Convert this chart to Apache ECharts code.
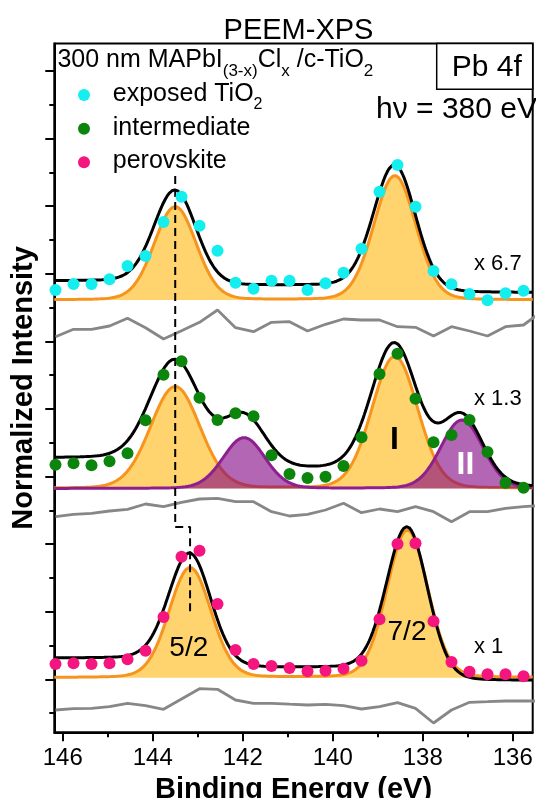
<!DOCTYPE html>
<html>
<head>
<meta charset="utf-8">
<script src="https://cdn.jsdelivr.net/npm/echarts@6/dist/echarts.min.js"></script>
<style>
  html, body { margin: 0; padding: 0; background: #fff; }
  #chart { width: 536px; height: 798px; }
</style>
</head>
<body>
<div id="chart"></div>
<script>
// ---------- data ----------
const bindingEnergy = [146.16, 145.76, 145.36, 144.96, 144.56, 144.16, 143.76, 143.36, 142.96, 142.56,
  142.16, 141.76, 141.36, 140.96, 140.56, 140.16, 139.76, 139.36, 138.96, 138.56,
  138.16, 137.76, 137.36, 136.96, 136.56, 136.16, 135.76];
const residualEnergy = [146.16, 145.76, 145.36, 144.96, 144.56, 144.16, 143.76, 143.36, 142.96, 142.56,
  142.16, 141.76, 141.36, 140.96, 140.56, 140.16, 139.76, 139.36, 138.96, 138.56,
  138.16, 137.76, 137.36, 136.96, 136.56, 136.16, 135.76, 135.36];

// measured intensities above each spectrum's baseline (a.u.)
const exposedTiO2 = [10, 16, 16, 20.7, 34, 44, 78, 103.3, 74.3, 49.3, 17.3, 11.3, 19.3, 19.3,
  10, 16.7, 27.3, 51.3, 108.3, 135, 93.3, 29, 15.7, 6, -0.3, 6.7, 9.3];
const intermediate = [23.8, 25.2, 23.2, 27.2, 35.2, 68.2, 113.8, 127.2, 90.8, 68.5, 75.2, 72.2, 33.2, 14.5,
  10.5, 11.8, 22.5, 51.2, 114.5, 134.8, 89.8, 46.2, 53.5, 68.5, 36.5, 5.8, 0.8];
const perovskite = [13.7, 14.4, 13.7, 14.4, 18.4, 27, 60.7, 121, 127, 73.7, 27.7, 13.7, 11.7, 9.7,
  6.4, 7, 9, 17, 58.4, 133.7, 134.4, 56.4, 15.7, 6, 3.4, 3.4, 1.4];

// fit residuals (data - fit)
const residualTiO2 = [-9.7, -2.3, -2.3, 1, 8.7, -0.7, -12, -3.7, 4.7, 17, -0.7, -4.7, 4.7, 5.3,
  -4, 2.7, 8, 7, 7, 0.3, -0.3, -9, 0.3, -4, -9, 0.3, 2, 15.3];
const residualIntermediate = [-6.7, -4.3, -3.3, -1, 0.7, 6, 3.3, 7.7, 11, 11.7, 8.3, 8.3, -1.7, -6,
  -4.3, 0, 6.7, -2.7, 1, -1.7, 3.3, -1.7, -11.7, -1.7, -1.7, 1.7, 3.3, 4.7];
const residualPerovskite = [-5, -3.7, -3.3, -1.7, 1.7, -0.7, -4.3, 6, 16.3, 15.7, 5, 1.7, 1.7, 0.8,
  0, 0.7, -0.7, -4, -1.7, 2.3, -3.3, -18, -5, 2.7, 3.3, 4, 4, 4];

// vertical stacking offsets: [TiO2, intermediate, perovskite]
const spectrumOffsets = [432.3, 243.8, 54.6];
const residualOffsets = [405.3, 222.3, 27.3];

// fitted Pb 4f doublets: [centre eV, height, FWHM eV, Shirley step]
const peaksTiO2 = [[143.50, 93.3, 1.10, 4.7], [138.62, 124.3, 1.10, 7.0]];
const peaksIntermediateI = [[143.50, 101.8, 1.30, 8.0], [138.62, 132.0, 1.20, 14.0]];
const peaksIntermediateII = [[141.97, 50.8, 1.10, 3.0], [137.13, 68.5, 1.10, 4.0]];
const peaksPerovskite = [[143.17, 110.0, 1.10, 9.7], [138.34, 147.5, 1.07, 12.7]];
// background level at the low binding-energy end
const backgroundFloor = [7.3, 1.5, -3.0];

// 5/2 peak position shift guide
const guidePath = [[143.50, 556.3], [143.50, 205.3], [143.17, 205.3], [143.17, 119.0]];

// axis ticks
const xMajorTicks = [136, 138, 140, 142, 144, 146];
const xMinorTicks = [137, 139, 141, 143, 145];
const yMajorTicks = [53, 120.6, 188.2, 255.8, 323.4, 391, 458.6, 526.2, 593.8, 661.4];
const yMinorTicks = [19.2, 86.8, 154.4, 222, 289.6, 357.2, 424.8, 492.4, 560, 627.6];

const X_MIN = 135.556, X_MAX = 146.187, Y_MIN = 0, Y_MAX = 688.8;

// ---------- fit model ----------
function erf(x) {
  const s = x < 0 ? -1 : 1; x = Math.abs(x);
  const t = 1 / (1 + 0.3275911 * x);
  const y = 1 - (((((1.061405429 * t - 1.453152027) * t) + 1.421413741) * t - 0.284496736) * t + 0.254829592) * t * Math.exp(-x * x);
  return s * y;
}
function peakShape(E, p) {
  const d = (E - p[0]) / p[2];
  return p[1] * (0.9 * Math.exp(-4 * Math.LN2 * d * d) + 0.1 / (1 + 4 * d * d));
}
function stepShape(E, p) {
  const s = p[2] / 2.3548;
  return p[3] * 0.5 * (1 + erf((E - p[0]) / (s * Math.SQRT2)));
}
// evaluation grid for the fitted curves, spanning the axis range
const fitEnergy = [];
const N_FIT = 500;
for (let i = 0; i <= N_FIT; i++) fitEnergy.push(X_MIN + (X_MAX - X_MIN) * i / N_FIT);

const sumPeaks = (E, peaks) => peaks.reduce((a, p) => a + peakShape(E, p), 0);
const sumSteps = (E, peaks) => peaks.reduce((a, p) => a + stepShape(E, p), 0);

// ---------- styling ----------
const FONT = '"Liberation Sans", Arial, Helvetica, sans-serif';
const ORANGE_LINE = '#F7941E';
const ORANGE_FILL = 'rgba(255,190,40,0.68)';
const PURPLE_LINE = '#8E1F8E';
const PURPLE_FILL = 'rgba(128,0,128,0.6)';
const COLORS = { tio2: '#14EEEE', inter: '#0B850B', perov: '#F5157E' };

const series = [];

// one fitted component: filled area down to the spectrum baseline plus its outline
function addComponent(peaks, offset, lineColor, fillColor, z) {
  const curve = fitEnergy.map(e => [e, offset + sumPeaks(e, peaks)]);
  series.push({
    type: 'custom', silent: true, z: z,
    data: [[140, offset]],
    renderItem: (params, api) => {
      const upper = curve.map(p => api.coord(p));
      const lower = [api.coord([X_MAX, offset]), api.coord([X_MIN, offset])];
      return {
        type: 'polygon',
        shape: { points: upper.concat(lower) },
        style: { fill: fillColor, stroke: null }
      };
    }
  });
  series.push({
    type: 'line', silent: true, symbol: 'none', z: z,
    data: curve,
    lineStyle: { color: lineColor, width: 3 }
  });
}
function addEnvelope(allPeaks, offset, floor) {
  series.push({
    type: 'line', silent: true, symbol: 'none', z: 4,
    data: fitEnergy.map(e => [e, offset + floor + sumSteps(e, allPeaks) + sumPeaks(e, allPeaks)]),
    lineStyle: { color: '#000', width: 3 }
  });
}
function addResidual(values, offset) {
  series.push({
    type: 'line', silent: true, symbol: 'none', z: 2,
    data: residualEnergy.map((e, i) => [e, offset + values[i]]),
    lineStyle: { color: '#878787', width: 2.8 }
  });
}
function addPoints(name, values, offset, color) {
  series.push({
    name: name, type: 'scatter', z: 6, symbolSize: 12,
    data: bindingEnergy.map((e, i) => [e, offset + values[i]]),
    itemStyle: { color: color, opacity: 1 }
  });
}

// exposed TiO2 (top)
addComponent(peaksTiO2, spectrumOffsets[0], ORANGE_LINE, ORANGE_FILL, 2);
addEnvelope(peaksTiO2, spectrumOffsets[0], backgroundFloor[0]);
addResidual(residualTiO2, residualOffsets[0]);
// intermediate (middle)
addComponent(peaksIntermediateI, spectrumOffsets[1], ORANGE_LINE, ORANGE_FILL, 2);
addComponent(peaksIntermediateII, spectrumOffsets[1], PURPLE_LINE, PURPLE_FILL, 3);
addEnvelope(peaksIntermediateI.concat(peaksIntermediateII), spectrumOffsets[1], backgroundFloor[1]);
addResidual(residualIntermediate, residualOffsets[1]);
// perovskite (bottom)
addComponent(peaksPerovskite, spectrumOffsets[2], ORANGE_LINE, ORANGE_FILL, 2);
addEnvelope(peaksPerovskite, spectrumOffsets[2], backgroundFloor[2]);
addResidual(residualPerovskite, residualOffsets[2]);

// guide line
series.push({
  type: 'line', silent: true, symbol: 'none', z: 5,
  data: guidePath,
  lineStyle: { color: '#000', width: 2, type: [8, 5] }
});

addPoints('exposed TiO2', exposedTiO2, spectrumOffsets[0], COLORS.tio2);
addPoints('intermediate', intermediate, spectrumOffsets[1], COLORS.inter);
addPoints('perovskite', perovskite, spectrumOffsets[2], COLORS.perov);

// ---------- chart ----------
const chart = echarts.init(document.getElementById('chart'), null, { renderer: 'canvas' });

const txt = (text, x, baseline, size, opts = {}) => ({
  type: 'text', z: 20, silent: true,
  style: Object.assign({
    text: text, x: x, y: baseline - 0.3465 * size, fill: '#000',
    font: (opts.bold ? 'bold ' : '') + size + 'px ' + FONT,
    textAlign: opts.align || 'left', textVerticalAlign: 'middle'
  }, opts.style || {})
});
const legendDot = (cy, color) => ({
  type: 'circle', z: 20, silent: true,
  shape: { cx: 84, cy: cy, r: 6 },
  style: { fill: color }
});

chart.setOption({
  animation: false,
  backgroundColor: '#fff',
  title: {
    text: 'PEEM-XPS', left: 293.5, textAlign: 'center', top: 11.8,
    textStyle: { fontFamily: FONT, fontSize: 29, fontWeight: 'normal', color: '#000' }
  },
  grid: {
    left: 54.3, right: 3.3, top: 43.5, bottom: 65.7,
    containLabel: false, outerBoundsMode: 'none',
    show: true, borderColor: '#000', borderWidth: 2, backgroundColor: 'transparent'
  },
  xAxis: [{
    type: 'value', inverse: true, min: X_MIN, max: X_MAX, position: 'bottom',
    name: 'Binding Energy (eV)', nameLocation: 'middle', nameGap: 41,
    nameTextStyle: { fontFamily: FONT, fontSize: 29, fontWeight: 'bold', color: '#000' },
    axisLine: { show: true, onZero: false, lineStyle: { color: '#000', width: 2 } },
    axisTick: { show: true, length: 9, customValues: xMajorTicks, lineStyle: { color: '#000', width: 2 } },
    axisLabel: { show: true, customValues: xMajorTicks, margin: 14, fontFamily: FONT, fontSize: 24, color: '#000',
      formatter: v => String(Math.round(v)) },
    splitLine: { show: false }
  }, {
    type: 'value', inverse: true, min: X_MIN, max: X_MAX, position: 'bottom',
    axisLine: { show: false, onZero: false },
    axisTick: { show: true, length: 5, customValues: xMinorTicks, lineStyle: { color: '#000', width: 2 } },
    axisLabel: { show: false }, splitLine: { show: false }
  }],
  yAxis: [{
    type: 'value', min: Y_MIN, max: Y_MAX, position: 'left',
    name: 'Normalized Intensity', nameLocation: 'middle', nameGap: 16,
    nameTextStyle: { fontFamily: FONT, fontSize: 29, fontWeight: 'bold', color: '#000' },
    axisLine: { show: true, onZero: false, lineStyle: { color: '#000', width: 2 } },
    axisTick: { show: true, length: 9, customValues: yMajorTicks, lineStyle: { color: '#000', width: 2 } },
    axisLabel: { show: false }, splitLine: { show: false }
  }, {
    type: 'value', min: Y_MIN, max: Y_MAX, position: 'left',
    axisLine: { show: false, onZero: false },
    axisTick: { show: true, length: 5, customValues: yMinorTicks, lineStyle: { color: '#000', width: 2 } },
    axisLabel: { show: false }, splitLine: { show: false }
  }],
  series: series,
  graphic: [
    {
      type: 'text', z: 20, silent: true,
      style: {
        x: 57.4, y: 40.5, textVerticalAlign: 'top', textAlign: 'left',
        text: '{m|300 nm MAPbI}{s|(3-x)}{m|Cl}{s|x}{m| /c-TiO}{s|2}',
        rich: {
          m: { fontFamily: FONT, fontSize: 25, lineHeight: 39.7, verticalAlign: 'middle', fill: '#000' },
          s: { fontFamily: FONT, fontSize: 17, lineHeight: 17, verticalAlign: 'bottom', fill: '#000' }
        }
      }
    },
    // legend
    legendDot(95, COLORS.tio2),
    legendDot(128.7, COLORS.inter),
    legendDot(162.3, COLORS.perov),
    {
      type: 'text', z: 20, silent: true,
      style: {
        x: 112.8, y: 76.3, textVerticalAlign: 'top', textAlign: 'left',
        text: '{m|exposed TiO}{s|2}',
        rich: {
          m: { fontFamily: FONT, fontSize: 25, lineHeight: 36, verticalAlign: 'middle', fill: '#000' },
          s: { fontFamily: FONT, fontSize: 16, lineHeight: 16, verticalAlign: 'bottom', fill: '#000' }
        }
      }
    },
    txt('intermediate', 112.8, 136.5, 25),
    txt('perovskite', 112.8, 170, 25),
    // element / photon energy
    {
      type: 'rect', z: 19, silent: true,
      shape: { x: 436.7, y: 43.5, width: 96, height: 45.8 },
      style: { fill: '#fff', stroke: '#000', lineWidth: 1.5 }
    },
    txt('Pb 4f', 486.7, 78.3, 30, { align: 'center' }),
    txt('h\u03bd = 380 eV', 537, 120, 30, { align: 'right' }),
    // scale factors
    txt('x 6.7', 474, 271.7, 22),
    txt('x 1.3', 474, 406.7, 22),
    txt('x 1', 474, 655, 22),
    // component / spin-orbit labels
    txt('I', 394.5, 451.7, 32, { bold: true, align: 'center' }),
    txt('II', 465.5, 476.7, 32, { bold: true, align: 'center', style: { fill: '#fff' } }),
    txt('5/2', 188.8, 658.3, 28, { align: 'center' }),
    txt('7/2', 407, 642, 28, { align: 'center' })
  ]
});
</script>
</body>
</html>
